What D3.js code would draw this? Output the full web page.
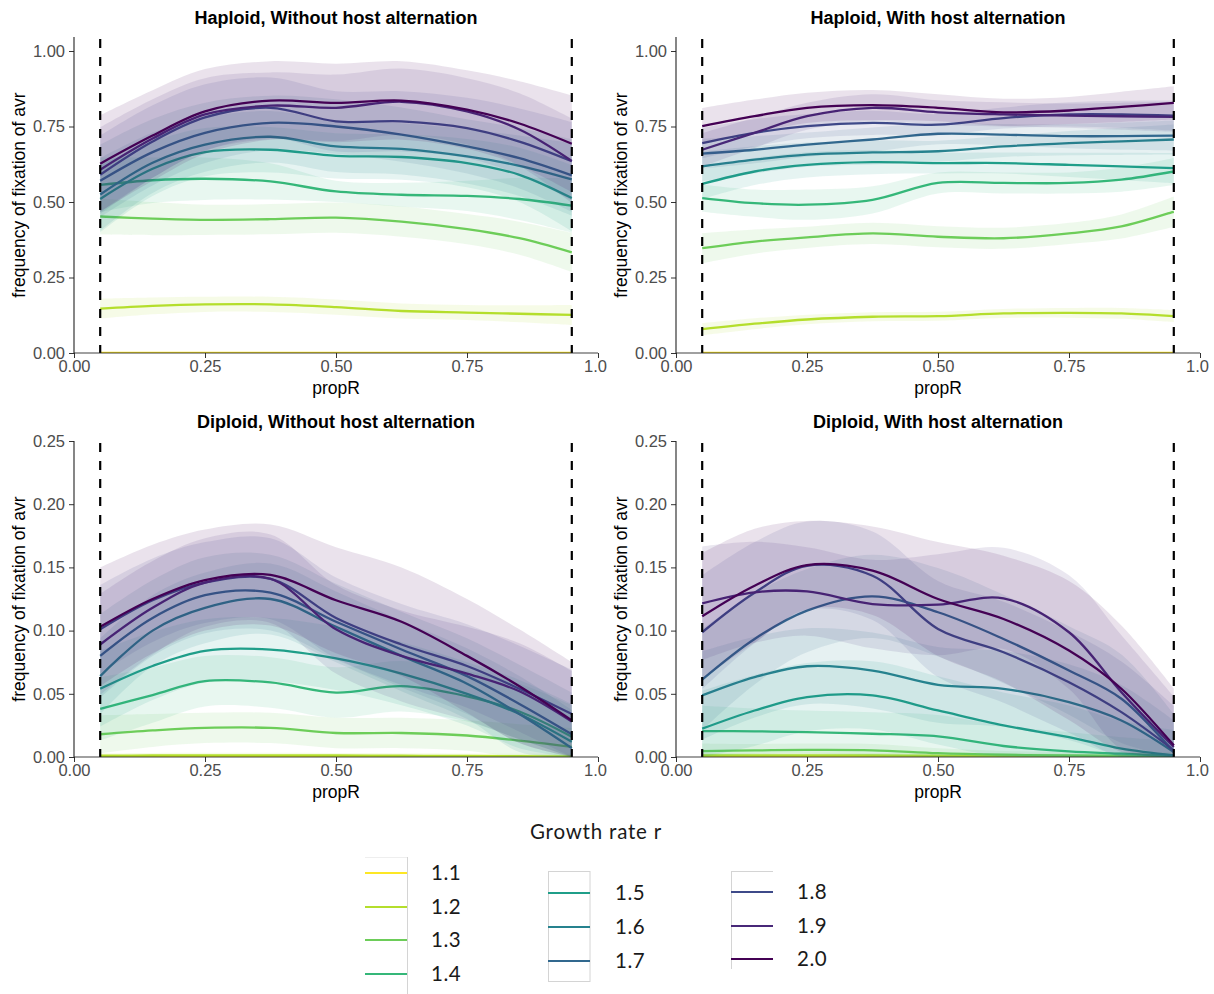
<!DOCTYPE html>
<html>
<head>
<meta charset="utf-8">
<script src="https://cdn.jsdelivr.net/npm/d3@7"></script>
<style>
  html, body { margin: 0; padding: 0; background: #fff; }
  svg { display: block; }
</style>
</head>
<body>
<svg id="chart" width="1214" height="994"></svg>
<script>
// ---------------- DATA ----------------
const propR = [0.05, 0.15, 0.25, 0.375, 0.5, 0.625, 0.75, 0.85, 0.95];
const growthRates = ["1.1", "1.2", "1.3", "1.4", "1.5", "1.6", "1.7", "1.8", "1.9", "2.0"];
const rateColors = ["#FDE725", "#B4DE2C", "#6DCD59", "#35B779", "#1F9E89", "#26828E", "#31688E", "#3E4A89", "#482878", "#440154"];
const panelTitles = ["Haploid, Without host alternation", "Haploid, With host alternation",
                     "Diploid, Without host alternation", "Diploid, With host alternation"];
const xTickValues = [0, 0.25, 0.5, 0.75, 1.0];
const xTickLabels = ["0.00", "0.25", "0.50", "0.75", "1.0"];
const yTicksHaploid = [0, 0.25, 0.5, 0.75, 1.0];
const yTicksDiploid = [0, 0.05, 0.10, 0.15, 0.20, 0.25];
const vlines = [0.05, 0.95];

// Haploid, without host alternation (series 1.1 .. 2.0)
const hapNoAlt = [
  [0, 0, 0, 0, 0, 0, 0, 0, 0],
  [0.147, 0.156, 0.161, 0.161, 0.152, 0.139, 0.134, 0.130, 0.126],
  [0.452, 0.445, 0.441, 0.443, 0.448, 0.435, 0.410, 0.380, 0.333],
  [0.557, 0.572, 0.577, 0.568, 0.535, 0.524, 0.520, 0.510, 0.488],
  [0.510, 0.610, 0.665, 0.673, 0.653, 0.649, 0.629, 0.590, 0.513],
  [0.525, 0.630, 0.690, 0.716, 0.684, 0.676, 0.651, 0.620, 0.575],
  [0.570, 0.665, 0.729, 0.762, 0.750, 0.723, 0.684, 0.645, 0.588],
  [0.590, 0.700, 0.780, 0.812, 0.767, 0.767, 0.745, 0.700, 0.635],
  [0.607, 0.710, 0.790, 0.819, 0.812, 0.832, 0.800, 0.740, 0.636],
  [0.627, 0.720, 0.800, 0.836, 0.828, 0.836, 0.806, 0.760, 0.693]
];
const hapNoAltSE = [
  [0, 0, 0, 0, 0, 0, 0, 0, 0],
  [0.033, 0.028, 0.025, 0.025, 0.025, 0.025, 0.025, 0.028, 0.033],
  [0.060, 0.055, 0.050, 0.050, 0.050, 0.050, 0.050, 0.055, 0.065],
  [0.090, 0.075, 0.070, 0.060, 0.035, 0.040, 0.050, 0.070, 0.090],
  [0.110, 0.090, 0.080, 0.075, 0.075, 0.075, 0.080, 0.090, 0.110],
  [0.120, 0.100, 0.090, 0.085, 0.085, 0.085, 0.090, 0.100, 0.120],
  [0.120, 0.110, 0.100, 0.090, 0.090, 0.090, 0.090, 0.100, 0.120],
  [0.130, 0.120, 0.110, 0.100, 0.100, 0.100, 0.100, 0.110, 0.130],
  [0.140, 0.130, 0.120, 0.110, 0.110, 0.110, 0.110, 0.120, 0.140],
  [0.160, 0.150, 0.140, 0.130, 0.130, 0.130, 0.130, 0.140, 0.160]
];

// Haploid, with host alternation
const hapAlt = [
  [0, 0, 0, 0, 0, 0, 0, 0, 0],
  [0.079, 0.097, 0.111, 0.120, 0.122, 0.131, 0.133, 0.131, 0.122],
  [0.347, 0.369, 0.383, 0.396, 0.385, 0.380, 0.396, 0.419, 0.468],
  [0.513, 0.496, 0.491, 0.507, 0.563, 0.563, 0.563, 0.574, 0.601],
  [0.560, 0.601, 0.623, 0.632, 0.629, 0.629, 0.623, 0.618, 0.612],
  [0.618, 0.640, 0.657, 0.664, 0.668, 0.684, 0.695, 0.701, 0.707],
  [0.660, 0.673, 0.690, 0.707, 0.726, 0.723, 0.718, 0.718, 0.720],
  [0.695, 0.729, 0.751, 0.762, 0.756, 0.778, 0.790, 0.790, 0.786],
  [0.673, 0.729, 0.784, 0.812, 0.797, 0.790, 0.786, 0.784, 0.782],
  [0.751, 0.784, 0.812, 0.821, 0.812, 0.797, 0.803, 0.815, 0.828]
];
const hapAltSE = [
  [0, 0, 0, 0, 0, 0, 0, 0, 0],
  [0.020, 0.018, 0.016, 0.015, 0.015, 0.015, 0.016, 0.018, 0.020],
  [0.050, 0.040, 0.035, 0.035, 0.035, 0.035, 0.035, 0.040, 0.050],
  [0.045, 0.045, 0.050, 0.045, 0.035, 0.035, 0.035, 0.040, 0.045],
  [0.050, 0.045, 0.042, 0.040, 0.035, 0.035, 0.040, 0.045, 0.050],
  [0.050, 0.045, 0.040, 0.040, 0.035, 0.035, 0.040, 0.045, 0.050],
  [0.050, 0.045, 0.040, 0.040, 0.035, 0.035, 0.040, 0.045, 0.050],
  [0.050, 0.045, 0.040, 0.040, 0.035, 0.035, 0.040, 0.045, 0.050],
  [0.055, 0.050, 0.045, 0.045, 0.040, 0.040, 0.040, 0.045, 0.050],
  [0.060, 0.055, 0.050, 0.050, 0.045, 0.045, 0.045, 0.050, 0.055]
];

// Diploid, without host alternation
const dipNoAlt = [
  [0, 0, 0, 0, 0, 0, 0, 0, 0],
  [0.0010, 0.0012, 0.0013, 0.0013, 0.0012, 0.0010, 0.0008, 0.0006, 0.0005],
  [0.018, 0.021, 0.023, 0.023, 0.019, 0.019, 0.017, 0.013, 0.008],
  [0.038, 0.049, 0.060, 0.059, 0.051, 0.056, 0.048, 0.036, 0.016],
  [0.054, 0.072, 0.084, 0.085, 0.078, 0.066, 0.050, 0.034, 0.012],
  [0.064, 0.100, 0.118, 0.125, 0.103, 0.080, 0.058, 0.034, 0.007],
  [0.080, 0.110, 0.128, 0.130, 0.107, 0.085, 0.064, 0.042, 0.018],
  [0.101, 0.124, 0.138, 0.141, 0.110, 0.089, 0.072, 0.054, 0.034],
  [0.089, 0.118, 0.138, 0.141, 0.101, 0.080, 0.066, 0.052, 0.028],
  [0.103, 0.125, 0.140, 0.144, 0.124, 0.107, 0.080, 0.056, 0.029]
];
const dipNoAltSE = [
  [0, 0, 0, 0, 0, 0, 0, 0, 0],
  [0.002, 0.002, 0.002, 0.002, 0.002, 0.002, 0.002, 0.002, 0.002],
  [0.015, 0.013, 0.012, 0.012, 0.012, 0.012, 0.012, 0.013, 0.015],
  [0.025, 0.022, 0.020, 0.020, 0.020, 0.020, 0.020, 0.022, 0.025],
  [0.030, 0.027, 0.025, 0.025, 0.025, 0.025, 0.025, 0.027, 0.030],
  [0.030, 0.028, 0.028, 0.028, 0.028, 0.028, 0.028, 0.030, 0.030],
  [0.033, 0.030, 0.030, 0.030, 0.030, 0.030, 0.030, 0.031, 0.033],
  [0.035, 0.033, 0.032, 0.032, 0.032, 0.032, 0.033, 0.034, 0.035],
  [0.040, 0.037, 0.035, 0.035, 0.035, 0.036, 0.037, 0.038, 0.040],
  [0.047, 0.043, 0.040, 0.040, 0.042, 0.043, 0.045, 0.045, 0.046]
];

// Diploid, with host alternation
const dipAlt = [
  [0, 0, 0, 0, 0, 0, 0, 0, 0],
  [0.0012, 0.0013, 0.0013, 0.0012, 0.0010, 0.0008, 0.0006, 0.0005, 0.0004],
  [0.0047, 0.0052, 0.0056, 0.0053, 0.0030, 0.0018, 0.0012, 0.0010, 0.0008],
  [0.0205, 0.0203, 0.0197, 0.0184, 0.0163, 0.0087, 0.0045, 0.0026, 0.0008],
  [0.0224, 0.0368, 0.0474, 0.0487, 0.0368, 0.0250, 0.0158, 0.0066, 0.0013],
  [0.0487, 0.0632, 0.0718, 0.0684, 0.0571, 0.0539, 0.0434, 0.0289, 0.0039],
  [0.0613, 0.0934, 0.1158, 0.1271, 0.1145, 0.0934, 0.0684, 0.0461, 0.0039],
  [0.0987, 0.1300, 0.1513, 0.1434, 0.1013, 0.0829, 0.0592, 0.0355, 0.0053],
  [0.1216, 0.1303, 0.1310, 0.1210, 0.1205, 0.1255, 0.0987, 0.0513, 0.0079],
  [0.1113, 0.1355, 0.1518, 0.1474, 0.1250, 0.1092, 0.0842, 0.0540, 0.0092]
];
const dipAltSE = [
  [0, 0, 0, 0, 0, 0, 0, 0, 0],
  [0.002, 0.002, 0.002, 0.002, 0.002, 0.002, 0.002, 0.002, 0.002],
  [0.006, 0.005, 0.005, 0.005, 0.004, 0.003, 0.003, 0.003, 0.003],
  [0.020, 0.018, 0.017, 0.017, 0.017, 0.016, 0.015, 0.013, 0.012],
  [0.030, 0.028, 0.027, 0.027, 0.027, 0.026, 0.025, 0.022, 0.020],
  [0.035, 0.032, 0.030, 0.030, 0.030, 0.030, 0.030, 0.028, 0.025],
  [0.040, 0.036, 0.033, 0.033, 0.035, 0.035, 0.035, 0.035, 0.030],
  [0.045, 0.040, 0.035, 0.035, 0.038, 0.040, 0.040, 0.040, 0.035],
  [0.045, 0.040, 0.035, 0.035, 0.040, 0.040, 0.045, 0.045, 0.040],
  [0.050, 0.045, 0.035, 0.035, 0.045, 0.050, 0.055, 0.050, 0.045]
];

// ---------------- LAYOUT ----------------
const svg = d3.select("#chart");
const tickFont = "'Liberation Sans', Arial, sans-serif";
const legendFont = "Lato, 'Noto Sans', sans-serif";

const panels = [
  { title: panelTitles[0], vals: hapNoAlt, se: hapNoAltSE, x0: 74,  x1: 598,  yBottom: 353, yTopVal: 51,  yTopAxis: 37,  domainMax: 1.0,  ticks: yTicksHaploid },
  { title: panelTitles[1], vals: hapAlt,   se: hapAltSE,   x0: 676, x1: 1200, yBottom: 353, yTopVal: 51,  yTopAxis: 37,  domainMax: 1.0,  ticks: yTicksHaploid },
  { title: panelTitles[2], vals: dipNoAlt, se: dipNoAltSE, x0: 74,  x1: 598,  yBottom: 757, yTopVal: 441, yTopAxis: 441, domainMax: 0.25, ticks: yTicksDiploid },
  { title: panelTitles[3], vals: dipAlt,   se: dipAltSE,   x0: 676, x1: 1200, yBottom: 757, yTopVal: 441, yTopAxis: 441, domainMax: 0.25, ticks: yTicksDiploid }
];

const defs = svg.append("defs");

panels.forEach((p, pi) => {
  const x = d3.scaleLinear().domain([0, 1]).range([p.x0, p.x1]);
  const y = d3.scaleLinear().domain([0, p.domainMax]).range([p.yBottom, p.yTopVal]);
  const g = svg.append("g");

  defs.append("clipPath").attr("id", "clip" + pi)
    .append("rect")
    .attr("x", p.x0).attr("y", p.yTopAxis)
    .attr("width", p.x1 - p.x0).attr("height", p.yBottom - p.yTopAxis);

  const plot = g.append("g").attr("clip-path", `url(#clip${pi})`);

  const area = d3.area()
    .x(d => x(d.x))
    .y0(d => y(Math.max(0, d.v - d.s)))
    .y1(d => y(d.v + d.s))
    .curve(d3.curveCatmullRom.alpha(0.5));
  const line = d3.line()
    .x(d => x(d.x))
    .y(d => y(d.v))
    .curve(d3.curveCatmullRom.alpha(0.5));

  // ribbon + line per group (as geom_smooth draws them)
  growthRates.forEach((r, ri) => {
    const pts = propR.map((xx, k) => ({ x: xx, v: p.vals[ri][k], s: p.se[ri][k] }));
    plot.append("path").datum(pts)
      .attr("d", area)
      .attr("fill", rateColors[ri])
      .attr("fill-opacity", 0.115)
      .attr("stroke", "none");
    plot.append("path").datum(pts)
      .attr("d", line)
      .attr("fill", "none")
      .attr("stroke", rateColors[ri])
      .attr("stroke-width", 2.3)
      .attr("stroke-linejoin", "round");
  });

  // dashed vertical lines
  g.selectAll(".vl").data(vlines).enter().append("line")
    .attr("x1", d => x(d)).attr("x2", d => x(d))
    .attr("y1", p.yTopAxis + 2).attr("y2", p.yBottom)
    .attr("stroke", "#000").attr("stroke-width", 2.2)
    .attr("stroke-dasharray", "9,9");

  // axes
  const yAxis = d3.axisLeft(y).tickValues(p.ticks).tickFormat(d3.format(".2f"))
    .tickSize(5).tickSizeOuter(0).tickPadding(4);
  const gy = g.append("g").attr("transform", `translate(${p.x0},0)`).call(yAxis);
  gy.select(".domain").remove();
  gy.selectAll(".tick line").attr("stroke", "#333").attr("stroke-width", 1);
  gy.selectAll(".tick text").attr("fill", "#4d4d4d").style("font-family", tickFont).style("font-size", "16.5px");

  const xAxis = d3.axisBottom(x).tickValues(xTickValues)
    .tickFormat((d, i) => xTickLabels[i])
    .tickSize(5).tickSizeOuter(0).tickPadding(2);
  const gx = g.append("g").attr("transform", `translate(0,${p.yBottom})`).call(xAxis);
  gx.select(".domain").remove();
  gx.selectAll(".tick line").attr("stroke", "#333").attr("stroke-width", 1);
  gx.selectAll(".tick text").attr("fill", "#4d4d4d").style("font-family", tickFont).style("font-size", "16.5px");
  gx.selectAll(".tick text").filter((d, i) => i === xTickValues.length - 1).attr("dx", "-3");

  // axis lines
  g.append("line").attr("x1", p.x0).attr("x2", p.x0).attr("y1", p.yTopAxis).attr("y2", p.yBottom + 0.5)
    .attr("stroke", "#222").attr("stroke-width", 1.1);
  g.append("line").attr("x1", p.x0).attr("x2", p.x1).attr("y1", p.yBottom).attr("y2", p.yBottom)
    .attr("stroke", "#222").attr("stroke-width", 1.1).attr("stroke-opacity", 0.85);

  // titles
  g.append("text")
    .attr("x", (p.x0 + p.x1) / 2).attr("y", p.yTopAxis - 13)
    .attr("text-anchor", "middle")
    .style("font-family", tickFont).style("font-weight", "bold").style("font-size", "18px")
    .attr("fill", "#000")
    .text(p.title);

  g.append("text")
    .attr("x", (p.x0 + p.x1) / 2).attr("y", p.yBottom + 41)
    .attr("text-anchor", "middle")
    .style("font-family", tickFont).style("font-size", "17.5px")
    .attr("fill", "#000")
    .text("propR");

  g.append("text")
    .attr("transform", `translate(${p.x0 - 49},${(p.yBottom + p.yTopAxis) / 2}) rotate(-90)`)
    .attr("text-anchor", "middle")
    .style("font-family", tickFont).style("font-size", "17.5px")
    .attr("fill", "#000")
    .text("frequency of fixation of avr");
});

// ---------------- LEGEND ----------------
const legend = svg.append("g");
legend.append("text")
  .attr("x", 596).attr("y", 839)
  .attr("text-anchor", "middle")
  .style("font-family", legendFont).style("font-size", "20.5px")
  .style("letter-spacing", "0.8px")
  .attr("fill", "#1a1a1a")
  .text("Growth rate r");

const legendCols = [
  { idx: [0, 1, 2, 3], kx: 365, lx: 431, rows: [873, 907, 940, 974] },
  { idx: [4, 5, 6],    kx: 548, lx: 615, rows: [893, 927, 961] },
  { idx: [7, 8, 9],    kx: 731, lx: 797, rows: [892, 926, 959] }
];
const keyW = 42;
const borderCol = "#d4d4d4";

// partial key borders as in the reference
legend.append("line").attr("x1", 365).attr("x2", 407.5).attr("y1", 857.5).attr("y2", 857.5).attr("stroke", "#eeeeee");
legend.append("line").attr("x1", 407.5).attr("x2", 407.5).attr("y1", 857).attr("y2", 994).attr("stroke", borderCol);
legend.append("rect").attr("x", 548.5).attr("y", 871.5).attr("width", 41.5).attr("height", 110)
  .attr("fill", "none").attr("stroke", borderCol);
legend.append("line").attr("x1", 731.5).attr("x2", 773).attr("y1", 871.5).attr("y2", 871.5).attr("stroke", borderCol);
legend.append("line").attr("x1", 731.5).attr("x2", 731.5).attr("y1", 871).attr("y2", 969).attr("stroke", borderCol);

legendCols.forEach(col => {
  col.idx.forEach((ri, k) => {
    legend.append("line")
      .attr("x1", col.kx).attr("x2", col.kx + keyW)
      .attr("y1", col.rows[k]).attr("y2", col.rows[k])
      .attr("stroke", rateColors[ri]).attr("stroke-width", 2);
    legend.append("text")
      .attr("x", col.lx).attr("y", col.rows[k])
      .attr("dy", "0.36em")
      .style("font-family", legendFont).style("font-size", "20.5px")
      .style("letter-spacing", "0.5px")
      .attr("fill", "#1a1a1a")
      .text(growthRates[ri]);
  });
});
</script>
</body>
</html>
